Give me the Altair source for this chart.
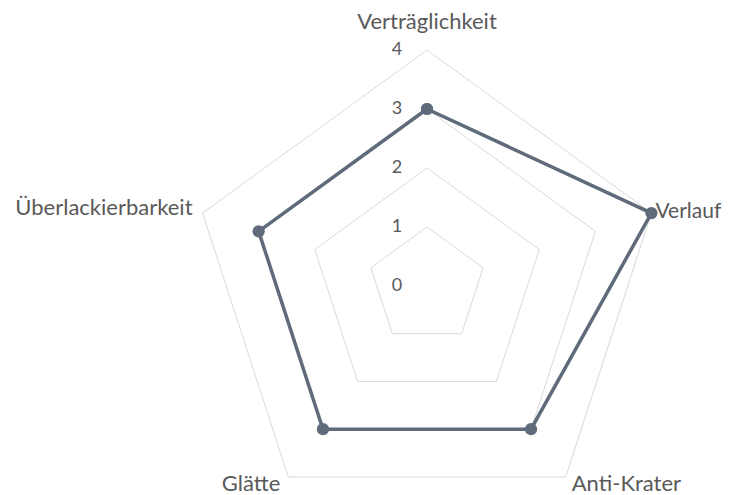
import math
import altair as alt
import pandas as pd

categories = ["Verträglichkeit", "Verlauf", "Anti-Krater", "Glätte", "Überlackierbarkeit"]
values = [3, 4, 3, 3, 3]
ticks = [0, 1, 2, 3, 4]
grid_levels = [1, 2, 3, 4]

N = len(categories)
UNIT = 59.0
W, H = 716, 487
CX, CY = 419, 278

# data tables built from the arrays
series = pd.DataFrame({"idx": list(range(N)) + [0], "cat": categories + [categories[0]],
                       "value": values + [values[0]]})
series["ord"] = list(range(N + 1))
grid = pd.DataFrame([{"level": l, "idx": i % N, "ord": i} for l in grid_levels for i in range(N + 1)])
labels = pd.DataFrame({"idx": list(range(N)), "cat": categories, "value": [max(ticks)] * N})
tick_df = pd.DataFrame({"t": ticks})

xs = alt.Scale(domain=[-CX / UNIT, (W - CX) / UNIT], nice=False, zero=False)
ys = alt.Scale(domain=[-(H - CY) / UNIT, CY / UNIT], nice=False, zero=False)
ang = f"datum.idx * 2 * PI / {N}"

def polar(ch, rfield):
    return ch.transform_calculate(
        px=f"datum.{rfield} * sin({ang})",
        py=f"datum.{rfield} * cos({ang})",
    )

grid_layer = polar(alt.Chart(grid), "level").mark_line(color="#d9d9d9", strokeWidth=1).encode(
    x=alt.X("px:Q", scale=xs, axis=None),
    y=alt.Y("py:Q", scale=ys, axis=None),
    detail="level:N",
    order="ord:Q",
)

line_color = "#5f6b7b"
data_line = polar(alt.Chart(series), "value").mark_line(color=line_color, strokeWidth=3.5).encode(
    x=alt.X("px:Q", scale=xs, axis=None),
    y=alt.Y("py:Q", scale=ys, axis=None),
    order="ord:Q",
)
data_pts = polar(alt.Chart(series), "value").mark_circle(color=line_color, size=150, opacity=1).encode(
    x=alt.X("px:Q", scale=xs, axis=None),
    y=alt.Y("py:Q", scale=ys, axis=None),
)

FONT = "Lato"
TXT = "#595959"
tick_layer = alt.Chart(tick_df).mark_text(font=FONT, fontSize=18, color=TXT, dx=-30,
                                          align="center", baseline="middle").encode(
    x=alt.value(CX),
    y=alt.Y("t:Q", scale=ys, axis=None),
    text="t:Q",
)

label_styles = {
    "Verträglichkeit": dict(align="center", baseline="middle", dx=0, dy=-28),
    "Verlauf": dict(align="left", baseline="middle", dx=4, dy=-1, fontSize=21),
    "Anti-Krater": dict(align="left", baseline="middle", dx=6, dy=7),
    "Glätte": dict(align="right", baseline="middle", dx=-8, dy=7),
    "Überlackierbarkeit": dict(align="right", baseline="middle", dx=-10, dy=-5),
}
label_layers = []
for c in categories:
    st = dict(fontSize=22)
    st.update(label_styles[c])
    label_layers.append(
        polar(alt.Chart(labels), "value").transform_filter(alt.datum.cat == c)
        .mark_text(font=FONT, color=TXT, **st).encode(
            x=alt.X("px:Q", scale=xs, axis=None),
            y=alt.Y("py:Q", scale=ys, axis=None),
            text="cat:N",
        )
    )

chart = alt.layer(grid_layer, data_line, data_pts, tick_layer, *label_layers).properties(
    width=W, height=H, autosize=alt.AutoSizeParams(type="none"), padding=0,
).configure_view(stroke=None)

chart.save("out.html", embed_options={"renderer": "svg", "actions": False})
